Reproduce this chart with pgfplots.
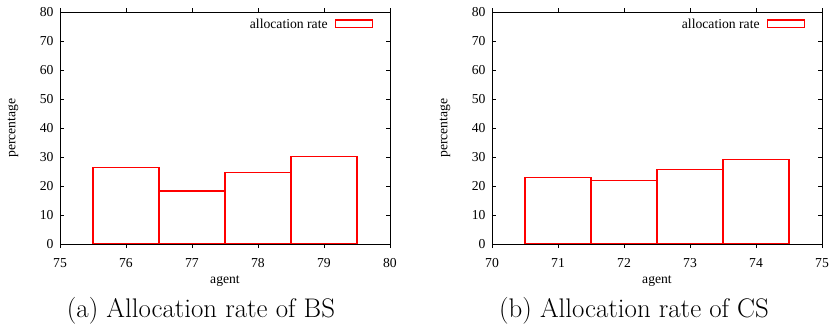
\documentclass[border=0pt]{standalone}
\usepackage{fontspec}
\newfontfamily\tnr{Liberation Serif}
\usepackage{pgfplots}
\pgfplotsset{compat=1.18}
\definecolor{gpred}{RGB}{255,0,0}
\newcommand{\gpfont}{\tnr\fontsize{13.7}{16}\selectfont}
\pgfplotsset{
  gp/.style={
    scale only axis, width=330bp, height=232bp, anchor=south west,
    ymin=0, ymax=80, ytick={0,10,...,80},
    tick align=inside, major tick length=4bp,
    tick style={black, line width=0.8bp},
    axis line style={black, line width=0.8bp},
    ticklabel style={font=\gpfont},
    /pgf/number format/assume math mode=true,
    yticklabel style={xshift=-3bp},
    xticklabel style={anchor=base, yshift=-19bp},
    xlabel=agent, ylabel=percentage,
    every axis x label/.style={at={(rel axis cs:0.5,0)}, anchor=base, yshift=-39bp, font=\gpfont},
    every axis y label/.style={at={(rel axis cs:0,0.5)}, anchor=center, xshift=-47bp, rotate=90, font=\gpfont},
    ybar, bar width=1,
    legend plot pos=right,
    legend style={draw=none, fill=none, inner sep=0pt, at={(1,1)}, anchor=north east,
      xshift=-17bp, yshift=-5bp, font=\gpfont, column sep=5bp},
    legend image code/.code={\draw[draw=gpred, line width=1.2bp] (0bp,-2.6bp) rectangle (37bp,4.7bp);},
  }
}
\begin{document}
\begin{tikzpicture}
\path[use as bounding box] (0bp,0bp) rectangle (832bp,324bp);
\begin{axis}[gp, at={(60bp,80bp)}, xmin=75, xmax=80, xtick={75,...,80}]
\addplot[draw=gpred, fill=none, line width=1.2bp] coordinates {(76,26.5) (77,18.3) (78,24.6) (79,30.3)};
\addlegendentry{allocation rate}
\end{axis}
\begin{axis}[gp, at={(492bp,80bp)}, xmin=70, xmax=75, xtick={70,...,75}]
\addplot[draw=gpred, fill=none, line width=1.2bp] coordinates {(71,22.8) (72,21.9) (73,25.6) (74,29.2)};
\addlegendentry{allocation rate}
\end{axis}
\node[anchor=base, font=\fontsize{27}{30}\selectfont] at (201bp,7bp) {(a) Allocation rate of BS};
\node[anchor=base, font=\fontsize{27}{30}\selectfont] at (634bp,7bp) {(b) Allocation rate of CS};
\end{tikzpicture}
\end{document}
